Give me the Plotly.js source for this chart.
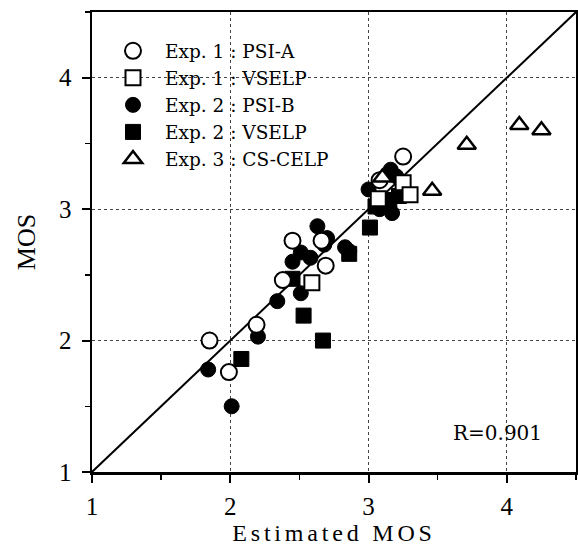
<!DOCTYPE html>
<html>
<head>
<meta charset="utf-8">
<script src="https://cdn.plot.ly/plotly-3.0.1.min.js"></script>
<style>
  html, body { margin: 0; padding: 0; background: #fff; }
  #chart { width: 578px; height: 545px; }
  .infolayer .annotation[data-index="1"] text { letter-spacing: 3.8px; }
</style>
</head>
<body>
<div id="chart"></div>
<script>
// Exp. 1 : PSI-A (open circles)
const psiA_x = [1.85, 1.99, 2.19, 2.38, 2.45, 2.66, 2.69, 3.08, 3.25];
const psiA_y = [2.00, 1.76, 2.12, 2.46, 2.76, 2.76, 2.57, 3.22, 3.40];
// Exp. 1 : VSELP (open squares)
const vselp1_x = [2.59, 3.07, 3.25, 3.30];
const vselp1_y = [2.44, 3.08, 3.20, 3.11];
// Exp. 2 : PSI-B (filled circles)
const psiB_x = [1.84, 2.01, 2.20, 2.34, 2.51, 2.45, 2.51, 2.58, 2.63, 2.70, 2.68, 2.83, 2.86, 3.00, 3.10, 3.17, 3.16, 3.20, 3.08];
const psiB_y = [1.78, 1.50, 2.03, 2.30, 2.36, 2.60, 2.67, 2.63, 2.87, 2.78, 2.73, 2.71, 2.68, 3.15, 3.05, 2.97, 3.30, 3.25, 3.00];
// Exp. 2 : VSELP (filled squares)
const vselp2_x = [2.08, 2.53, 2.67, 2.86, 3.01, 2.45, 3.05, 3.15, 3.22];
const vselp2_y = [1.86, 2.19, 2.00, 2.66, 2.86, 2.47, 3.02, 3.07, 3.10];
// Exp. 3 : CS-CELP (open triangles)
const csCelp_x = [3.10, 3.46, 3.71, 4.09, 4.25];
const csCelp_y = [3.24, 3.14, 3.49, 3.64, 3.60];
// identity line
const lineX = [1, 4.5];
const lineY = [1, 4.5];
const tickVals = [1, 2, 3, 4];
const tickText = ['1', '2', '3', '4'];
const seriesNames = ['Exp. 1 : PSI-A', 'Exp. 1 : VSELP', 'Exp. 2 : PSI-B', 'Exp. 2 : VSELP', 'Exp. 3 : CS-CELP'];
const rText = 'R=0.901';
const xTitle = 'Estimated MOS';
const yTitle = 'MOS';

const serif = 'Liberation Serif, Times New Roman, serif';
const wideSerif = 'DejaVu Serif, serif';

const traces = [
  { x: lineX, y: lineY, mode: 'lines', line: { color: '#000', width: 2 }, showlegend: false, hoverinfo: 'skip' },
  { x: psiB_x, y: psiB_y, mode: 'markers', name: seriesNames[2], legendrank: 3,
    marker: { symbol: 'circle', size: 15, color: '#000', line: { color: '#000', width: 1 } } },
  { x: vselp2_x, y: vselp2_y, mode: 'markers', name: seriesNames[3], legendrank: 4,
    marker: { symbol: 'square', size: 15, color: '#000', line: { color: '#000', width: 1 } } },
  { x: vselp1_x, y: vselp1_y, mode: 'markers', name: seriesNames[1], legendrank: 2,
    marker: { symbol: 'square', size: 15, color: '#fff', line: { color: '#000', width: 2 } } },
  { x: psiA_x, y: psiA_y, mode: 'markers', name: seriesNames[0], legendrank: 1,
    marker: { symbol: 'circle', size: 16, color: '#fff', line: { color: '#000', width: 2 } } },
  { x: csCelp_x, y: csCelp_y, mode: 'markers', name: seriesNames[4], legendrank: 5,
    marker: { symbol: 'triangle-up', size: 16, color: '#fff', line: { color: '#000', width: 2.5 } } }
];

const axisCommon = {
  range: [1, 4.5],
  tickvals: tickVals,
  ticktext: tickText,
  ticks: 'outside',
  ticklen: 8,
  tickwidth: 2,
  tickcolor: '#000',
  showline: true,
  linecolor: '#000',
  linewidth: 2.5,
  mirror: true,
  showgrid: true,
  gridcolor: '#444',
  gridwidth: 1,
  griddash: 'dot',
  zeroline: false,
  tickfont: { family: serif, size: 25, color: '#000' },
  minor: { dtick: 0.5, tick0: 1, ticks: 'outside', ticklen: 5, tickwidth: 1.5, tickcolor: '#000', showgrid: false }
};

const layout = {
  width: 578, height: 545,
  margin: { l: 92, r: 2, t: 12, b: 73 },
  paper_bgcolor: '#fff', plot_bgcolor: '#fff',
  showlegend: true,
  legend: {
    x: 0.0186, y: 0.956, xanchor: 'left', yanchor: 'top',
    bgcolor: 'rgba(0,0,0,0)', borderwidth: 0,
    font: { family: wideSerif, size: 18.5, color: '#000' },
    tracegroupgap: 0, traceorder: 'normal', itemwidth: 54
  },
  xaxis: Object.assign({}, axisCommon, {
    ticklabelstandoff: 2
  }),
  yaxis: Object.assign({}, axisCommon, {
    ticklabelstandoff: 5,
    title: { text: yTitle, font: { family: serif, size: 26, color: '#000' }, standoff: 16 }
  }),
  annotations: [
    { x: 3.93, y: 1.30, xref: 'x', yref: 'y', text: rText, showarrow: false,
      font: { family: wideSerif, size: 20, color: '#000' } },
    { x: 0.5, y: -0.1326, xref: 'paper', yref: 'paper', yanchor: 'middle', xanchor: 'center',
      text: xTitle, showarrow: false, borderpad: 0,
      font: { family: serif, size: 24, color: '#000' } }
  ]
};

Plotly.newPlot('chart', traces, layout, { displayModeBar: false, staticPlot: true });
</script>
</body>
</html>
